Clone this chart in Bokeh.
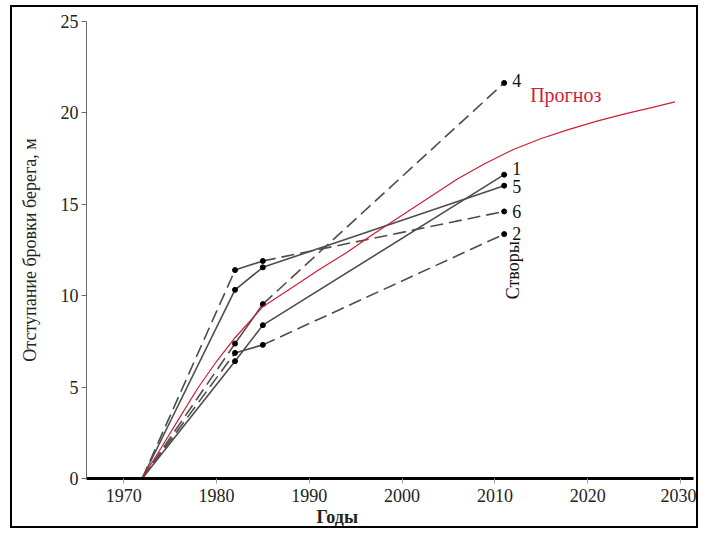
from bokeh.plotting import figure
from bokeh.models import Range1d, Label, FixedTicker, ColumnDataSource, Title
from bokeh.embed import file_html
from bokeh.resources import INLINE
from bokeh.core.properties import value

# ---- data ----
years = [1972, 1982, 1985, 2011]
stvor_names = ["1", "2", "4", "5", "6"]
stvor_1 = [0, 6.42, 8.39, 16.62]
stvor_2 = [0, 6.87, 7.31, 13.37]
stvor_4 = [0, 7.38, 9.54, 21.64]
stvor_5 = [0, 10.32, 11.55, 16.02]
stvor_6 = [0, 11.40, 11.90, 14.61]

forecast_years = [1972, 1974, 1976, 1978, 1980, 1982, 1985, 1988, 1991, 1994, 1997,
                  2000, 2003, 2006, 2009, 2012, 2015, 2018, 2021, 2024, 2027, 2029.4]
forecast_vals = [0, 1.64, 3.3, 4.95, 6.4, 7.7, 9.4, 10.4, 11.4, 12.35, 13.4,
                 14.4, 15.4, 16.4, 17.25, 18.0, 18.6, 19.1, 19.55, 19.95, 20.3, 20.6]

x_ticks = [1970, 1980, 1990, 2000, 2010, 2020, 2030]
y_ticks = [0, 5, 10, 15, 20, 25]

series = {"1": stvor_1, "2": stvor_2, "4": stvor_4, "5": stvor_5, "6": stvor_6}

# ---- styles ----
dashed = {"2", "4", "6"}
label_dy = {"1": -6, "2": -1, "4": -2, "5": 1, "6": 0}
LINE_C = "#4d4d4d"
RED = "#cf1f36"
FONT = "Liberation Serif"

p = figure(width=688, height=523, output_backend="svg", toolbar_location=None,
           x_range=Range1d(1966, 2031.4), y_range=Range1d(0, 25),
           min_border_left=74, min_border_right=7, min_border_top=14,
           min_border_bottom=52, margin=(5, 0, 0, 10),
           styles={"border": "2px solid black"})
p.outline_line_color = None
p.xgrid.visible = False
p.ygrid.visible = False
p.background_fill_color = "white"
p.border_fill_color = "white"

# axes
xa = p.xaxis[0]
xa.ticker = FixedTicker(ticks=x_ticks)
xa.axis_line_color = "black"
xa.axis_line_width = 3
xa.major_tick_line_color = "#9a9a9a"
xa.major_tick_out = 5
xa.major_tick_in = 0
xa.minor_tick_line_color = None
xa.major_label_text_font = FONT
xa.major_label_text_font_size = "18px"
xa.major_label_text_color = "#222222"
xa.major_label_standoff = 5

ya = p.yaxis[0]
ya.ticker = FixedTicker(ticks=y_ticks)
ya.axis_line_color = "#6a6a6a"
ya.axis_line_width = 1
ya.major_tick_line_color = "#6a6a6a"
ya.major_tick_out = 5
ya.major_tick_in = 0
ya.minor_tick_line_color = None
ya.major_label_text_font = FONT
ya.major_label_text_font_size = "18px"
ya.major_label_text_color = "#222222"
ya.major_label_standoff = 3
ya.axis_label = "Отступание бровки берега, м"
ya.axis_label_text_font = FONT
ya.axis_label_text_font_size = "18px"
ya.axis_label_text_font_style = "normal"
ya.axis_label_text_color = "#222222"
ya.axis_label_standoff = 18

# observed series, segment by segment
for name in stvor_names:
    vals = series[name]
    for i in range(len(years) - 1):
        seg_dash = "solid"
        if name in dashed and i != 1:
            seg_dash = "13 6"
        p.line(years[i:i + 2], vals[i:i + 2], line_color=LINE_C, line_width=1.6,
               line_dash=seg_dash)
    p.scatter(years[1:], vals[1:], size=5, color="black")

# forecast curve
p.line(forecast_years, forecast_vals, line_color=RED, line_width=1.2)

# series end labels
src = ColumnDataSource(dict(
    x=[years[-1]] * len(stvor_names),
    y=[series[n][-1] for n in stvor_names],
    t=stvor_names,
    dy=[label_dy[n] for n in stvor_names],
))
p.text(x="x", y="y", text="t", source=src, x_offset=8, y_offset="dy",
       text_font=value(FONT), text_font_size="18px", text_color="#111111",
       text_baseline="middle", text_align="left")

p.add_layout(Label(x=2013.8, y=21.0, text="Прогноз", text_font=FONT,
                   text_font_size="20px", text_color=RED, text_baseline="middle",
                   text_align="left"))
p.add_layout(Label(x=2012.0, y=9.8, text="Створы", text_font=FONT, angle=1.5708,
                   text_font_size="18px", text_color="#111111", text_baseline="middle",
                   text_align="left"))

# x axis title placed below the axis, shifted left as in the original
p.add_layout(Title(text="Годы", align="left", offset=230, standoff=0,
                   text_font=FONT, text_font_size="18px", text_font_style="bold",
                   text_color="#222222"), "below")

open("out.html", "w").write(file_html(p, INLINE))
